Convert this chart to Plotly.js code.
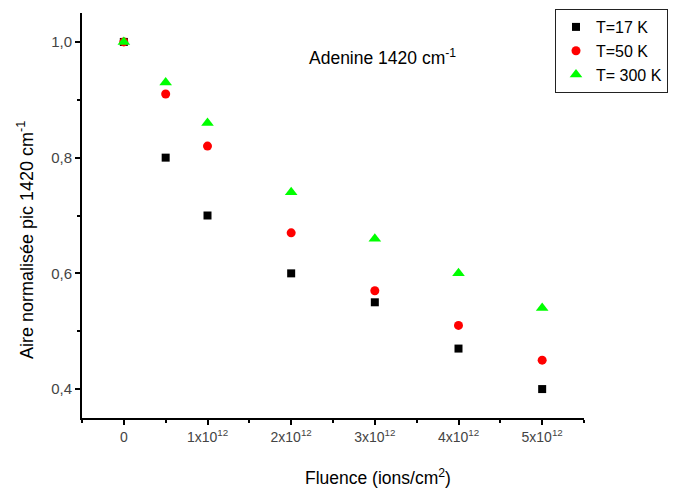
<!DOCTYPE html>
<html><head><meta charset="utf-8">
<script src="https://cdn.plot.ly/plotly-3.0.1.min.js"></script>
<style>body{margin:0;background:#fff}#c{width:673px;height:491px}</style>
</head><body><div id="c"></div>
<script>
const fluence = [0, 0.5e12, 1e12, 2e12, 3e12, 4e12, 5e12];
const t17 = [1.0, 0.80, 0.70, 0.60, 0.55, 0.47, 0.40];
const t50 = [1.0, 0.91, 0.82, 0.67, 0.57, 0.51, 0.45];
const t300 = [1.0, 0.93, 0.86, 0.74, 0.66, 0.60, 0.54];
const xTickVals = [0, 1e12, 2e12, 3e12, 4e12, 5e12];
const xTickText = ['0', '1x10<sup>12</sup>', '2x10<sup>12</sup>', '3x10<sup>12</sup>', '4x10<sup>12</sup>', '5x10<sup>12</sup>'];
const xMinorVals = [-0.5e12, 0.5e12, 1.5e12, 2.5e12, 3.5e12, 4.5e12, 5.5e12];
const yTickVals = [0.4, 0.6, 0.8, 1.0];
const yTickText = ['0,4', '0,6', '0,8', '1,0'];
const yMinorVals = [0.5, 0.7, 0.9];

const F = 'Liberation Sans, Arial, sans-serif';
const W = 673, H = 491, L = 82, R = 89, T = 13, B = 73;
const pw = W - L - R, ph = H - T - B;
const px = v => (v - L) / pw;
const py = v => (H - B - v) / ph;

const traces = [
  {x: fluence, y: t17, name: 'T=17 K', mode: 'markers', type: 'scatter',
   marker: {symbol: 'square', size: 8, color: '#000000'}},
  {x: fluence, y: t50, name: 'T=50 K', mode: 'markers', type: 'scatter',
   marker: {symbol: 'circle', size: 9, color: '#ff0000'}},
  {x: fluence, y: t300, name: 'T= 300 K', mode: 'markers', type: 'scatter',
   marker: {symbol: 'triangle-up', size: 11, color: '#00ff00'}}
];
const axisCommon = {showgrid: false, zeroline: false, showline: true, linecolor: '#000', linewidth: 2,
  ticks: 'outside', ticklen: 5, tickwidth: 2, tickcolor: '#000'};
const layout = {
  width: W, height: H,
  margin: {l: L, r: R, t: T, b: B, autoexpand: false},
  paper_bgcolor: '#fff', plot_bgcolor: '#fff',
  font: {family: F, color: '#000'},
  showlegend: true,
  legend: {x: px(555), y: py(9), xanchor: 'left', yanchor: 'top', xref: 'paper', yref: 'paper',
    bordercolor: '#222', borderwidth: 1, bgcolor: '#fff',
    font: {family: F, size: 16, color: '#000'}, tracegroupgap: 0},
  xaxis: Object.assign({}, axisCommon, {range: [-0.5e12, 5.5e12], tickmode: 'array',
    tickvals: xTickVals, ticktext: xTickText,
    tickfont: {family: F, size: 14, color: '#444'},
    minor: {ticks: 'outside', ticklen: 3, tickwidth: 1.5, tickcolor: '#000', tickvals: xMinorVals}}),
  yaxis: Object.assign({}, axisCommon, {range: [0.35, 1.05], tickmode: 'array',
    tickvals: yTickVals, ticktext: yTickText,
    tickfont: {family: F, size: 15, color: '#444'},
    minor: {ticks: 'outside', ticklen: 3, tickwidth: 1.5, tickcolor: '#000', tickvals: yMinorVals}}),
  annotations: [
    {text: 'Adenine 1420 cm<sup>-1</sup>', xref: 'paper', yref: 'paper', x: px(382), y: py(57),
     showarrow: false, font: {family: F, size: 17.5, color: '#000'}, xanchor: 'center', yanchor: 'middle'},
    {text: 'Fluence (ions/cm<sup>2</sup>)', xref: 'paper', yref: 'paper', x: px(378), y: py(477),
     showarrow: false, font: {family: F, size: 17.5, color: '#000'}, xanchor: 'center', yanchor: 'middle'},
    {text: 'Aire normalisée pic 1420 cm<sup>-1</sup>', xref: 'paper', yref: 'paper', x: px(26), y: py(240),
     textangle: -90, showarrow: false, font: {family: F, size: 18, color: '#000'}, xanchor: 'center', yanchor: 'middle'}
  ]
};
Plotly.newPlot('c', traces, layout, {displayModeBar: false});
</script></body></html>
